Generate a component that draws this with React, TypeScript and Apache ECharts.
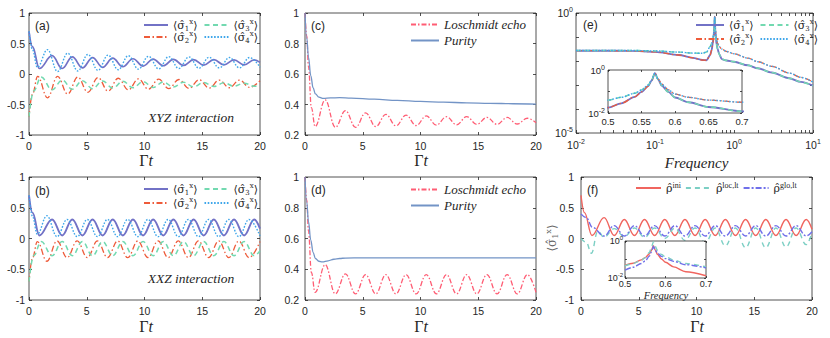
import React, { useEffect, useRef } from "react";
import * as echarts from "echarts";

type Pt = [number, number];

// ================= Tick labels =================
const timeTicks = [0, 5, 10, 15, 20];
const sigmaTicks = [-1, -0.5, 0, 0.5, 1];
const echoTicks = [0.2, 0.4, 0.6, 0.8, 1];
const freqDecadesE = [0.01, 0.1, 1, 10];
const spectrumLabelTicksE = [1e-5, 1];
const insetFreqTicksE = [0.5, 0.55, 0.6, 0.65, 0.7];
const insetFreqTicksF = [0.5, 0.6, 0.7];
const insetSpectrumLabelTicks = [0.01, 1];
const insetMarkerFreq = 0.57;

// ================= (a) XYZ interaction =================
const aSigma1: Pt[] = [[0,0.70],[0.3,0.45],[0.9,0.09],[2.0,0.30],[2.875,0.09],[3.75,0.28],[4.625,0.10],[5.5,0.27],[6.375,0.11],[7.25,0.26],[8.125,0.12],[9.0,0.25],[9.875,0.13],[10.75,0.245],[11.625,0.135],[12.5,0.24],[13.375,0.14],[14.25,0.235],[15.125,0.145],[16.0,0.235],[16.875,0.15],[17.75,0.23],[18.625,0.15],[19.5,0.23],[20,0.19]];
const aSigma2: Pt[] = [[0,-0.70],[0.3,-0.33],[0.75,-0.04],[1.6,-0.39],[2.475,-0.04],[3.35,-0.33],[4.225,-0.05],[5.1,-0.30],[5.975,-0.06],[6.85,-0.28],[7.725,-0.07],[8.6,-0.26],[9.475,-0.08],[10.35,-0.25],[11.225,-0.085],[12.1,-0.24],[12.975,-0.09],[13.85,-0.235],[14.725,-0.095],[15.6,-0.23],[16.475,-0.10],[17.35,-0.225],[18.225,-0.10],[19.1,-0.22],[20,-0.11]];
const aSigma3: Pt[] = [[0,-0.70],[0.4,-0.28],[1.05,-0.05],[2.0,-0.26],[2.875,-0.10],[3.75,-0.25],[4.625,-0.11],[5.5,-0.24],[6.375,-0.115],[7.25,-0.23],[8.125,-0.12],[9.0,-0.225],[9.875,-0.125],[10.75,-0.22],[11.625,-0.13],[12.5,-0.215],[13.375,-0.135],[14.25,-0.21],[15.125,-0.14],[16.0,-0.205],[16.875,-0.145],[17.75,-0.20],[18.625,-0.15],[19.5,-0.20],[20,-0.18]];
const aSigma4: Pt[] = [[0,0.70],[0.3,0.40],[0.72,0.11],[1.6,0.40],[2.475,0.04],[3.35,0.34],[4.225,0.05],[5.1,0.32],[5.975,0.06],[6.85,0.31],[7.725,0.07],[8.6,0.30],[9.475,0.08],[10.35,0.29],[11.225,0.085],[12.1,0.285],[12.975,0.09],[13.85,0.28],[14.725,0.095],[15.6,0.275],[16.475,0.10],[17.35,0.27],[18.225,0.10],[19.1,0.27],[20,0.11]];

// ================= (b) XXZ interaction =================
const bSigma1: Pt[] = [[0,0.70],[0.3,0.42],[0.9,0.05],[2.0,0.31],[2.875,0.05],[3.75,0.31],[4.625,0.05],[5.5,0.31],[6.375,0.05],[7.25,0.31],[8.125,0.05],[9.0,0.31],[9.875,0.05],[10.75,0.31],[11.625,0.05],[12.5,0.31],[13.375,0.05],[14.25,0.31],[15.125,0.05],[16.0,0.31],[16.875,0.05],[17.75,0.31],[18.625,0.05],[19.5,0.31],[20,0.16]];
const bSigma2: Pt[] = [[0,-0.70],[0.3,-0.32],[0.72,-0.05],[1.55,-0.37],[2.425,-0.04],[3.3,-0.31],[4.175,-0.04],[5.05,-0.31],[5.925,-0.04],[6.8,-0.31],[7.675,-0.04],[8.55,-0.31],[9.425,-0.04],[10.3,-0.31],[11.175,-0.04],[12.05,-0.31],[12.925,-0.04],[13.8,-0.31],[14.675,-0.04],[15.55,-0.31],[16.425,-0.04],[17.3,-0.31],[18.175,-0.04],[19.05,-0.31],[20,-0.05]];
const bSigma3: Pt[] = [[0,-0.70],[0.4,-0.28],[1.05,-0.05],[2.0,-0.28],[2.875,-0.05],[3.75,-0.28],[4.625,-0.05],[5.5,-0.28],[6.375,-0.05],[7.25,-0.28],[8.125,-0.05],[9.0,-0.28],[9.875,-0.05],[10.75,-0.28],[11.625,-0.05],[12.5,-0.28],[13.375,-0.05],[14.25,-0.28],[15.125,-0.05],[16.0,-0.28],[16.875,-0.05],[17.75,-0.28],[18.625,-0.05],[19.5,-0.28],[20,-0.20]];
const bSigma4: Pt[] = [[0,0.70],[0.3,0.36],[0.72,0.07],[1.55,0.37],[2.425,0.03],[3.3,0.31],[4.175,0.03],[5.05,0.31],[5.925,0.03],[6.8,0.31],[7.675,0.03],[8.55,0.31],[9.425,0.03],[10.3,0.31],[11.175,0.03],[12.05,0.31],[12.925,0.03],[13.8,0.31],[14.675,0.03],[15.55,0.31],[16.425,0.03],[17.3,0.31],[18.175,0.03],[19.05,0.31],[20,0.04]];

// ================= (c) / (d) Loschmidt echo & purity =================
const cLoschmidt: Pt[] = [[0,1],[0.15,0.85],[0.3,0.65],[0.55,0.38],[0.875,0.255],[1.75,0.43],[2.625,0.25],[3.5,0.36],[4.375,0.25],[5.25,0.345],[6.125,0.255],[7.0,0.335],[7.875,0.26],[8.75,0.33],[9.625,0.262],[10.5,0.325],[11.375,0.265],[12.25,0.32],[13.125,0.267],[14.0,0.32],[14.875,0.27],[15.75,0.315],[16.625,0.27],[17.5,0.315],[18.375,0.272],[19.25,0.31],[20,0.28]];
const cPurity: Pt[] = [[0,1],[0.15,0.84],[0.3,0.71],[0.5,0.59],[0.7,0.51],[0.9,0.47],[1.2,0.448],[1.6,0.44],[2.2,0.443],[3,0.445],[4,0.442],[6,0.435],[8,0.427],[10,0.42],[12,0.415],[14,0.411],[16,0.408],[18,0.405],[20,0.403]];
const dLoschmidt: Pt[] = [[0,1],[0.15,0.85],[0.3,0.65],[0.55,0.38],[0.875,0.25],[1.75,0.43],[2.625,0.24],[3.5,0.37],[4.375,0.24],[5.25,0.365],[6.125,0.24],[7.0,0.365],[7.875,0.24],[8.75,0.365],[9.625,0.24],[10.5,0.365],[11.375,0.24],[12.25,0.365],[13.125,0.24],[14.0,0.365],[14.875,0.24],[15.75,0.365],[16.625,0.24],[17.5,0.365],[18.375,0.24],[19.25,0.365],[20,0.25]];
const dPurity: Pt[] = [[0,1],[0.15,0.84],[0.3,0.71],[0.5,0.59],[0.7,0.51],[0.9,0.47],[1.2,0.452],[1.5,0.448],[2.0,0.455],[2.5,0.465],[3.0,0.47],[3.5,0.473],[5,0.474],[10,0.474],[15,0.474],[20,0.474]];

// ================= (e) spectra (log10 of amplitude) =================
const eFreqLeft = [0.01,0.02,0.05,0.1,0.2,0.3,0.4,0.45,0.5,0.52,0.54,0.55,0.56,0.565,0.57];
const eFreqRight = [0.575,0.58,0.59,0.6,0.62,0.65,0.7,0.8,1,1.5,2,3,5,7,10];
const eLeftLowExp = [-1.57,-1.57,-1.58,-1.62,-1.75,-1.87,-1.96,-1.97,-1.75,-1.55,-1.25,-1.02,-0.75,-0.5,-0.15];
const eLeftHighExp = [-1.56,-1.56,-1.56,-1.58,-1.63,-1.67,-1.68,-1.62,-1.4,-1.27,-1.08,-0.93,-0.7,-0.48,-0.15];
const eRightHighExp = [-0.42,-0.66,-0.92,-1.12,-1.27,-1.4,-1.5,-1.6,-1.7,-1.88,-2.03,-2.22,-2.5,-2.68,-2.88];
const eRightLowExp = [-0.45,-0.72,-1.02,-1.28,-1.5,-1.72,-1.92,-1.98,-2.03,-2.18,-2.3,-2.48,-2.72,-2.87,-3.03];

// ================= (f) different steady states =================
const fIni: Pt[] = [[0,0.70],[0.3,0.42],[0.95,0.05],[2.0,0.34],[2.875,0.05],[3.75,0.31],[4.625,0.05],[5.5,0.31],[6.375,0.05],[7.25,0.31],[8.125,0.05],[9.0,0.31],[9.875,0.05],[10.75,0.31],[11.625,0.05],[12.5,0.31],[13.375,0.05],[14.25,0.31],[15.125,0.05],[16.0,0.31],[16.875,0.05],[17.75,0.31],[18.625,0.05],[19.5,0.31],[20,0.15]];
const fLoc: Pt[] = [[0,0.0],[0.45,-0.06],[0.9,-0.24],[1.45,0.12],[2.0,0.02],[2.875,0.16],[3.75,0.03],[4.625,0.17],[5.5,0.02],[6.375,0.17],[7.25,0.0],[8.125,0.17],[9.0,-0.03],[9.875,0.17],[10.75,-0.07],[11.625,0.17],[12.5,-0.12],[13.375,0.17],[14.25,-0.15],[15.125,0.17],[16.0,-0.15],[16.875,0.17],[17.75,-0.14],[18.625,0.17],[19.5,-0.10],[20,0.10]];
const fGlo: Pt[] = [[0,0.40],[0.45,0.34],[1.0,0.18],[2.0,0.04],[2.875,0.21],[3.75,0.04],[4.625,0.21],[5.5,0.04],[6.375,0.21],[7.25,0.04],[8.125,0.21],[9.0,0.04],[9.875,0.21],[10.75,0.04],[11.625,0.21],[12.5,0.04],[13.375,0.21],[14.25,0.04],[15.125,0.21],[16.0,0.04],[16.875,0.21],[17.75,0.04],[18.625,0.21],[19.5,0.04],[20,0.11]];
const fInsetFreq = [0.5,0.52,0.54,0.55,0.56,0.565,0.57,0.575,0.58,0.59,0.6,0.62,0.65,0.7];
const fInsetIniExp = [-1.32,-1.2,-1.02,-0.9,-0.7,-0.52,-0.25,-0.5,-0.72,-0.97,-1.15,-1.4,-1.66,-1.88];
const fInsetLocExp = [-1.35,-1.22,-1.05,-0.9,-0.62,-0.38,-0.05,-0.3,-0.5,-0.73,-0.86,-1.03,-1.22,-1.4];
const fInsetGloExp = [-1.58,-1.42,-1.22,-1.08,-0.82,-0.6,-0.3,-0.5,-0.65,-0.83,-0.95,-1.1,-1.28,-1.46];

// ================= styles =================
const FRAME = "#262626";
const SANS = "'Liberation Sans', Arial, Helvetica, sans-serif";
const SERIF = "'Liberation Serif', 'Times New Roman', serif";
const MATH = "'DejaVu Serif', 'Liberation Serif', serif";

const STY: Record<string, { color: string; width: number; type: any }> = {
  s1: { color: "#7272c6", width: 1.7, type: "solid" },
  s2: { color: "#ee5b3a", width: 1.3, type: [6, 2.5, 1.5, 2.5] },
  s3: { color: "#72d9b0", width: 1.5, type: [5, 3.5] },
  s4: { color: "#3ea6ea", width: 1.4, type: [1.6, 1.6] },
  L: { color: "#ff5d74", width: 1.3, type: [5, 2, 1.5, 2] },
  P: { color: "#7394c6", width: 1.3, type: "solid" },
  ini: { color: "#f0655f", width: 1.4, type: "solid" },
  loc: { color: "#7ccfc4", width: 1.4, type: [5, 4] },
  glo: { color: "#7070ea", width: 1.4, type: [6, 2, 2, 2] },
};

const LABEL: Record<string, string> = {
  s1: "{b|⟨σ̂}{sub|1}{sup|x}{b|⟩}",
  s2: "{b|⟨σ̂}{sub|2}{sup|x}{b|⟩}",
  s3: "{b|⟨σ̂}{sub|3}{sup|x}{b|⟩}",
  s4: "{b|⟨σ̂}{sub|4}{sup|x}{b|⟩}",
  L: "{i|Loschmidt echo}",
  P: "{i|Purity}",
  ini: "{b|ρ̂}{rs|ini}",
  loc: "{b|ρ̂}{rs|loc,lt}",
  glo: "{b|ρ̂}{rs|glo,lt}",
};

const RICH_LEG = {
  b: { fontFamily: MATH, fontSize: 11, color: FRAME, lineHeight: 14 },
  sub: { fontFamily: MATH, fontSize: 7, color: FRAME, verticalAlign: "bottom", lineHeight: 8 },
  sup: { fontFamily: MATH, fontSize: 7, color: FRAME, verticalAlign: "top", lineHeight: 8 },
  rs: { fontFamily: SERIF, fontSize: 8, color: FRAME, verticalAlign: "top", lineHeight: 8 },
  i: { fontFamily: SERIF, fontStyle: "italic", fontSize: 13, color: FRAME, lineHeight: 14 },
};

function clean(o: any) {
  Object.keys(o).forEach((k) => {
    if (o[k] === undefined) delete o[k];
  });
  return o;
}

const supRich = (fs: number) => ({
  b: { fontFamily: SANS, fontSize: fs, color: FRAME, lineHeight: fs + 3 },
  s: { fontFamily: SANS, fontSize: Math.round(fs * 0.7), color: FRAME, verticalAlign: "top", lineHeight: Math.round(fs * 0.7) },
});

const logLabel = (allowed: number[]) => (v: number) => {
  const e = Math.round(Math.log10(v));
  return allowed.some((a) => Math.abs(Math.log10(a) - e) < 1e-6) ? `{b|10}{s|${e}}` : "";
};
const decLabel = (v: number) => String(+v.toFixed(3));

function buildOption() {
  const grid: any[] = [];
  const xAxis: any[] = [];
  const yAxis: any[] = [];
  const series: any[] = [];

  function axisPair(list: any[], spec: any, gi: number, z: number, isX: boolean) {
    const base = clean({
      type: spec.type, min: spec.min, max: spec.max, interval: spec.interval, splitNumber: spec.splitNumber,
      logBase: spec.type === "log" ? 10 : undefined, gridIndex: gi, z,
      axisLine: { show: false, onZero: false }, splitLine: { show: false }, splitArea: { show: false },
      minorTick: { show: false },
    });
    const tick = clean({ show: true, inside: true, length: spec.tickLen ?? 3, lineStyle: { color: FRAME, width: 0.8 }, customValues: spec.tickValues });
    const fs = spec.fontSize ?? 10.5;
    const idx = list.length;
    list.push({
      ...base, position: isX ? "bottom" : "left", axisTick: tick,
      axisLabel: clean({ show: true, margin: spec.margin ?? 5, color: FRAME, fontFamily: SANS, fontSize: fs, formatter: spec.formatter ?? decLabel, rich: spec.rich ? supRich(fs) : undefined, hideOverlap: false, showMinLabel: true, showMaxLabel: true }),
    });
    list.push({ ...base, position: isX ? "top" : "right", axisTick: tick, axisLabel: { show: false } });
    return idx;
  }
  function panel(box: any, xs: any, ys: any) {
    const gi = grid.length;
    const z = box.z ?? 0;
    grid.push({ left: box.left, top: box.top, width: box.width, height: box.height, show: true, borderColor: FRAME, borderWidth: 0.8, backgroundColor: box.bg ?? "transparent", z });
    return [axisPair(xAxis, xs, gi, z + 1, true), axisPair(yAxis, ys, gi, z + 1, false)];
  }
  function ln(name: string, data: any[], xi: number, yi: number, z = 2, extra: any = {}) {
    const s = STY[name];
    series.push({
      type: "line", name, data, xAxisIndex: xi, yAxisIndex: yi, showSymbol: false, symbol: "none",
      smooth: extra.smooth ?? 0.4, smoothMonotone: "x", silent: true, clip: true, z,
      lineStyle: { color: s.color, width: extra.width ?? s.width, type: s.type, cap: "butt" },
      itemStyle: { color: s.color },
      ...(extra.markLine ? { markLine: extra.markLine } : {}),
    });
  }

  const timeAxis = { type: "value", min: timeTicks[0], max: timeTicks[timeTicks.length - 1], interval: timeTicks[1] - timeTicks[0], margin: 5 };
  const sigmaAxis = { type: "value", min: sigmaTicks[0], max: sigmaTicks[sigmaTicks.length - 1], interval: sigmaTicks[1] - sigmaTicks[0], margin: 4 };
  const echoAxis = { type: "value", min: echoTicks[0], max: echoTicks[echoTicks.length - 1], interval: echoTicks[1] - echoTicks[0], margin: 6 };

  // (a)
  const [ax, ay] = panel({ left: 29, top: 13, width: 231, height: 122 }, timeAxis, sigmaAxis);
  ln("s1", aSigma1, ax, ay); ln("s2", aSigma2, ax, ay); ln("s3", aSigma3, ax, ay); ln("s4", aSigma4, ax, ay);
  // (b)
  const [bx, by] = panel({ left: 29, top: 177, width: 231, height: 123 }, timeAxis, sigmaAxis);
  ln("s1", bSigma1, bx, by, 2, { width: 1.9 }); ln("s2", bSigma2, bx, by); ln("s3", bSigma3, bx, by); ln("s4", bSigma4, bx, by);
  // (c)
  const [cx, cy] = panel({ left: 305, top: 13, width: 231, height: 122 }, timeAxis, echoAxis);
  ln("L", cLoschmidt, cx, cy); ln("P", cPurity, cx, cy);
  // (d)
  const [dx, dy] = panel({ left: 305, top: 177, width: 231, height: 123 }, timeAxis, echoAxis);
  ln("L", dLoschmidt, dx, dy); ln("P", dPurity, dx, dy);

  // (e)
  const minorE: number[] = [];
  for (let d = 0; d < freqDecadesE.length; d++) {
    const dec = freqDecadesE[d];
    if (d === freqDecadesE.length - 1) { minorE.push(dec); break; }
    for (let m = 1; m <= 9; m++) minorE.push(+(dec * m).toPrecision(3));
  }
  const [ex, ey] = panel(
    { left: 576, top: 13, width: 237, height: 120 },
    { type: "log", min: freqDecadesE[0], max: freqDecadesE[freqDecadesE.length - 1], splitNumber: 3, formatter: logLabel(freqDecadesE), rich: true, tickValues: minorE, margin: 5 },
    { type: "log", min: spectrumLabelTicksE[0], max: spectrumLabelTicksE[1], splitNumber: 5, formatter: logLabel(spectrumLabelTicksE), rich: true, margin: 3 }
  );
  const spec = (le: number[], re: number[]) => [
    ...eFreqLeft.map((f, i) => [f, Math.pow(10, le[i])]),
    ...eFreqRight.map((f, i) => [f, Math.pow(10, re[i])]),
  ];
  const eS: Record<string, any[]> = {
    s1: spec(eLeftLowExp, eRightLowExp),
    s2: spec(eLeftLowExp, eRightHighExp),
    s3: spec(eLeftHighExp, eRightLowExp),
    s4: spec(eLeftHighExp, eRightHighExp),
  };
  ["s1", "s2", "s3", "s4"].forEach((n) => ln(n, eS[n], ex, ey, 2, n === "s1" ? { width: 1.9, smooth: 0.3 } : { smooth: 0.3 }));
  // (e) inset
  const [eix, eiy] = panel(
    { left: 608, top: 70, width: 134, height: 43, z: 10, bg: "#ffffff" },
    { type: "value", min: insetFreqTicksE[0], max: insetFreqTicksE[insetFreqTicksE.length - 1], interval: +(insetFreqTicksE[1] - insetFreqTicksE[0]).toFixed(3), fontSize: 9.5, margin: 3, tickLen: 2 },
    { type: "log", min: insetSpectrumLabelTicks[0], max: insetSpectrumLabelTicks[1], splitNumber: 2, formatter: logLabel(insetSpectrumLabelTicks), rich: true, fontSize: 9.5, margin: 3, tickLen: 2 }
  );
  ["s1", "s2", "s3", "s4"].forEach((n) =>
    ln(n, eS[n].filter((p) => p[0] >= 0.45 && p[0] <= 0.8), eix, eiy, 12,
      n === "s1"
        ? { width: 1.8, smooth: 0.3, markLine: { silent: true, symbol: ["none", "none"], label: { show: false }, lineStyle: { color: "#111", type: [4, 3], width: 1.2 }, data: [{ xAxis: insetMarkerFreq }] } }
        : { smooth: 0.3 })
  );

  // (f)
  const [fx, fy] = panel({ left: 581, top: 177, width: 231, height: 123 }, timeAxis, { ...sigmaAxis, margin: 7 });
  ln("ini", fIni, fx, fy); ln("loc", fLoc, fx, fy); ln("glo", fGlo, fx, fy);
  const [fix, fiy] = panel(
    { left: 625, top: 241, width: 81, height: 37, z: 10, bg: "#ffffff" },
    { type: "value", min: insetFreqTicksF[0], max: insetFreqTicksF[insetFreqTicksF.length - 1], interval: +(insetFreqTicksF[1] - insetFreqTicksF[0]).toFixed(3), fontSize: 9, margin: 1, tickLen: 2 },
    { type: "log", min: insetSpectrumLabelTicks[0], max: insetSpectrumLabelTicks[1], splitNumber: 2, formatter: logLabel(insetSpectrumLabelTicks), rich: true, fontSize: 9, margin: 2, tickLen: 2 }
  );
  const fin = (ex: number[]) => fInsetFreq.map((f, i) => [f, Math.pow(10, ex[i])]);
  ln("ini", fin(fInsetIniExp), fix, fiy, 12, { smooth: 0.3 }); ln("loc", fin(fInsetLocExp), fix, fiy, 12, { smooth: 0.3 }); ln("glo", fin(fInsetGloExp), fix, fiy, 12, { smooth: 0.3 });

  // legends
  const legend = (names: string[], left: number, top: number, w: number, gap: number, orient = "horizontal") => ({
    show: true, left, top, orient, itemWidth: w, itemHeight: 10, itemGap: gap, padding: 0, selectedMode: false,
    data: names.map((n) => ({ name: n })), formatter: (n: string) => LABEL[n],
    itemStyle: { opacity: 0, color: "transparent", borderColor: "transparent", borderWidth: 0 },
    textStyle: { color: FRAME, fontFamily: MATH, fontSize: 11, rich: RICH_LEG }, z: 20,
  });
  const legends = [
    legend(["s1", "s3"], 143, 18, 24, 6), legend(["s2", "s4"], 143, 30, 24, 6),
    legend(["s1", "s3"], 143, 182, 24, 6), legend(["s2", "s4"], 143, 196, 24, 6),
    legend(["L", "P"], 410, 18, 28, 3, "vertical"), legend(["L", "P"], 410, 183, 28, 3, "vertical"),
    legend(["s1", "s3"], 695, 18, 28, 6), legend(["s2", "s4"], 695, 32, 28, 6),
    legend(["ini", "loc", "glo"], 635, 181, 25, 4),
  ];

  // texts
  const txt = (text: string, x: number, y: number, font: string, extra: any = {}) => ({
    type: "text", x, y, z: 30, silent: true,
    style: { text, font, fill: FRAME, textAlign: extra.align ?? "left", textVerticalAlign: "middle" },
  });
  const gammaT = (x: number, y: number) => ({
    type: "text", x, y, z: 30, silent: true,
    style: { text: "{g|Γ}{t|t}", fill: FRAME, textAlign: "center", textVerticalAlign: "middle",
      rich: { g: { fontFamily: SERIF, fontSize: 16, fill: FRAME }, t: { fontFamily: SERIF, fontStyle: "italic", fontSize: 16, fill: FRAME } } },
  });
  const graphic = [
    txt("(a)", 35, 26, `12px ${SANS}`), txt("(b)", 35, 190.5, `12px ${SANS}`),
    txt("(c)", 311, 25.5, `12px ${SANS}`), txt("(d)", 311, 190, `12px ${SANS}`),
    txt("(e)", 583, 25, `12px ${SANS}`), txt("(f)", 587, 190, `12px ${SANS}`),
    txt("XYZ interaction", 191, 117, `italic 13.5px ${SERIF}`, { align: "center" }),
    txt("XXZ interaction", 191, 278, `italic 13.5px ${SERIF}`, { align: "center" }),
    gammaT(146, 160.5), gammaT(146, 326), gammaT(421, 160.5), gammaT(421, 326), gammaT(697, 326),
    txt("Frequency", 696.5, 162.5, `italic 15px ${SERIF}`, { align: "center" }),
    txt("Frequency", 666, 295, `italic 10.5px ${SERIF}`, { align: "center" }),
    {
      type: "text", x: 552, y: 238, rotation: Math.PI / 2, z: 30, silent: true,
      style: { text: "{b|⟨σ̂}{sub|1}{sup|x}{b|⟩}", fill: "#666", textAlign: "center", textVerticalAlign: "middle",
        rich: { b: { fontFamily: MATH, fontSize: 12, fill: "#666", lineHeight: 15 }, sub: { fontFamily: MATH, fontSize: 8, fill: "#666", verticalAlign: "bottom", lineHeight: 8 }, sup: { fontFamily: MATH, fontSize: 8, fill: "#666", verticalAlign: "top", lineHeight: 8 } } },
    },
  ];

  return { animation: false, backgroundColor: "#ffffff", textStyle: { fontFamily: SANS }, grid, xAxis, yAxis, series, legend: legends, graphic };
}

export default function App() {
  const ref = useRef<HTMLDivElement>(null);
  useEffect(() => {
    const chart = echarts.init(ref.current!, undefined, { renderer: "svg" });
    chart.setOption(buildOption() as any);
    return () => chart.dispose();
  }, []);
  return <div ref={ref} style={{ position: "absolute", left: 0, top: 0, width: 830, height: 338 }} />;
}
